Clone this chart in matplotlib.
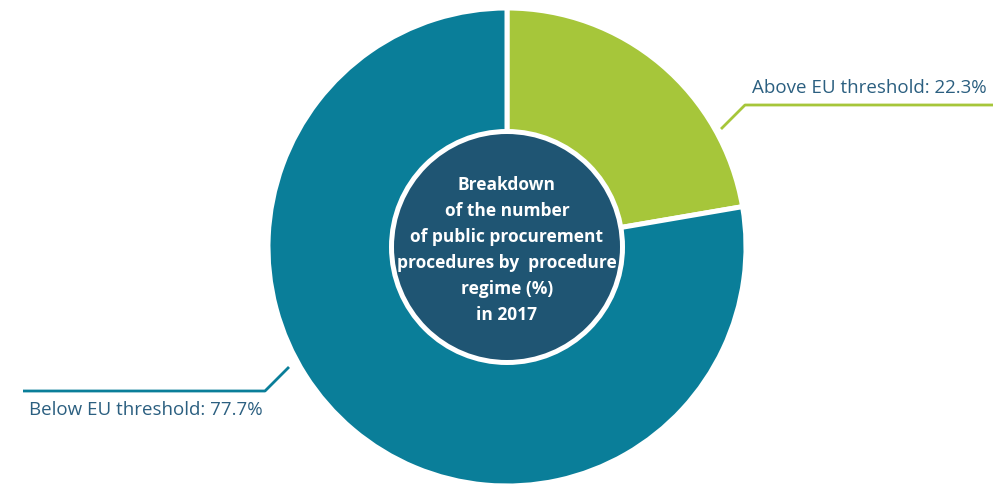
import matplotlib

matplotlib.use("Agg")

import matplotlib.pyplot as plt
from matplotlib.patches import Circle

# procedure regime shares, 2017 (%)
regimes = ["Above EU threshold", "Below EU threshold"]
shares = [22.3, 77.7]
colors = ["#a6c63a", "#0a7e99"]

title_lines = [
    "Breakdown",
    "of the number",
    "of public procurement",
    "procedures by  procedure",
    "regime (%)",
    "in 2017",
]

W, H = 1004, 487
fig = plt.figure(figsize=(W / 100, H / 100), dpi=100)
ax = fig.add_axes([0, 0, 1, 1])
ax.set_xlim(0, W)
ax.set_ylim(0, H)
ax.set_aspect("equal")
ax.axis("off")

cx, cy, r = 507, 240, 239
ax.pie(
    shares,
    colors=colors,
    startangle=90,
    counterclock=False,
    center=(cx, cy),
    radius=r,
    wedgeprops=dict(edgecolor="white", linewidth=3.6),
)
ax.set_xlim(0, W)
ax.set_ylim(0, H)

# centre disc with white ring
ax.add_patch(Circle((cx, cy), 118, facecolor="white", edgecolor="none", zorder=3))
ax.add_patch(Circle((cx, cy), 113, facecolor="#1f5573", edgecolor="none", zorder=4))

y0, step = H - 185, 26
for i, line in enumerate(title_lines):
    ax.text(cx, y0 - i * step, line, color="white", fontsize=12.5, fontweight="bold",
            family="Open Sans", ha="center", va="center", zorder=5)

label_color = "#2b5f80"

# leader lines + labels
ax.plot([721, 745, 993], [H - 129, H - 105, H - 105], color=colors[0], lw=2, solid_capstyle="butt")
ax.text(752, H - 88, f"{regimes[0]}: {shares[0]}%", color=label_color, fontsize=13.5,
        family="Open Sans", ha="left", va="center")

ax.plot([289, 265, 23], [H - 367, H - 391, H - 391], color=colors[1], lw=2, solid_capstyle="butt")
ax.text(29, H - 410, f"{regimes[1]}: {shares[1]}%", color=label_color, fontsize=13.5,
        family="Open Sans", ha="left", va="center")

fig.savefig("out.png", dpi=100, facecolor="white")
